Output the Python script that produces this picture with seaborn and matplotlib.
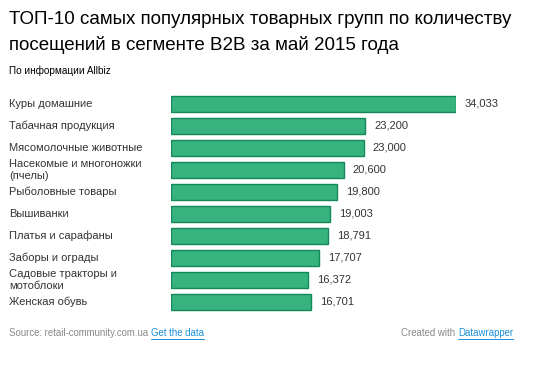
import matplotlib
matplotlib.use("Agg")
import matplotlib.pyplot as plt
import seaborn as sns
import pandas as pd
from matplotlib.lines import Line2D

categories = [
    "Куры домашние",
    "Табачная продукция",
    "Мясомолочные животные",
    "Насекомые и многоножки\n(пчелы)",
    "Рыболовные товары",
    "Вышиванки",
    "Платья и сарафаны",
    "Заборы и ограды",
    "Садовые тракторы и\nмотоблоки",
    "Женская обувь",
]
values = [34033, 23200, 23000, 20600, 19800, 19003, 18791, 17707, 16372, 16701]

df = pd.DataFrame({"cat": categories, "val": values})

sns.set_style("white")
plt.rcParams["font.family"] = ["Liberation Sans", "DejaVu Sans"]

W, H = 555, 375
fig = plt.figure(figsize=(W / 100, H / 100), dpi=100)
ax = fig.add_axes([171 / W, (H - 313) / H, (456 - 171) / W, 220 / H])

sns.barplot(data=df, y="cat", x="val", orient="h", ax=ax, color="#36b37e",
            edgecolor="#14885a", linewidth=1.0, width=0.73, saturation=1)
ax.set_xlim(0, max(values))
ax.set_ylim(len(categories) - 0.5, -0.5)
ax.set_xlabel("")
ax.set_ylabel("")
ax.set_xticks([])
ax.set_yticks([])
sns.despine(ax=ax, left=True, bottom=True)

lab_tr = matplotlib.transforms.blended_transform_factory(fig.transFigure, ax.transData)
for i, (c, v) in enumerate(zip(categories, values)):
    ax.text(9 / W, i, c, transform=lab_tr, ha="left", va="center",
            fontsize=8.0, color="#333333", linespacing=1.3)
    ax.annotate(f"{v:,}", xy=(v, i), xytext=(6.5, 0), textcoords="offset points",
                ha="left", va="center", fontsize=8.0, color="#333333",
                annotation_clip=False)

fig.text(9 / W, 1 - 20 / H, "ТОП-10 самых популярных товарных групп по количеству",
         fontsize=13.5, color="#000000", va="center", ha="left")
fig.text(9 / W, 1 - 45 / H, "посещений в сегменте B2B за май 2015 года",
         fontsize=13.5, color="#000000", va="center", ha="left")
fig.text(9 / W, 1 - 71 / H, "По информации Allbiz", fontsize=7.2,
         color="#000000", va="center", ha="left")

# footer
renderer = fig.canvas.get_renderer()
fy = 1 - 333 / H
t1 = fig.text(9 / W, fy, "Source: retail-community.com.ua ", fontsize=6.9,
              color="#888888", va="center", ha="left")
bb = t1.get_window_extent(renderer)
t2 = fig.text(bb.x1 / W, fy, "Get the data", fontsize=6.9, color="#1a8fd8",
              va="center", ha="left")
t4 = fig.text(513 / W, fy, "Datawrapper", fontsize=6.9, color="#1a8fd8",
              va="center", ha="right")
bb4 = t4.get_window_extent(renderer)
fig.text(bb4.x0 / W, fy, "Created with ", fontsize=6.9, color="#888888",
         va="center", ha="right")
for t in (t2, t4):
    b = t.get_window_extent(renderer)
    fig.add_artist(Line2D([b.x0 / W, b.x1 / W], [(b.y0 - 0.5) / H] * 2,
                          color="#1a8fd8", linewidth=0.7, transform=fig.transFigure))

fig.savefig("out.png", dpi=100)
